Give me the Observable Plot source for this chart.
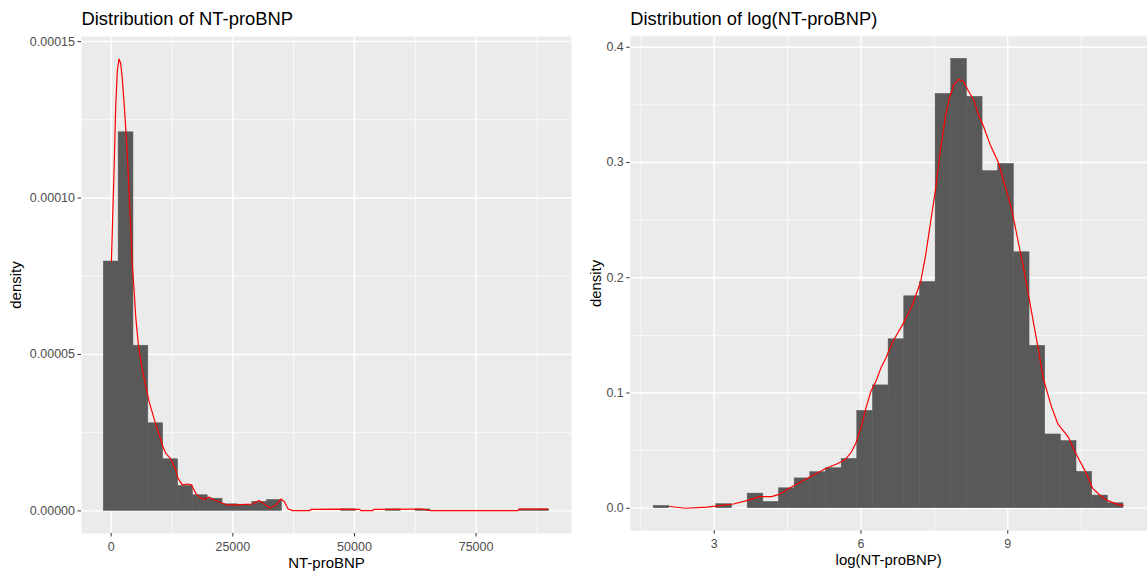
<!DOCTYPE html>
<html><head><meta charset="utf-8">
<script src="https://cdn.jsdelivr.net/npm/d3@7"></script>
<script src="https://cdn.jsdelivr.net/npm/@observablehq/plot@0.6"></script>
<style>
html,body{margin:0;padding:0;background:#fff;overflow:hidden;}
#wrap{position:relative;width:1147px;height:574px;overflow:hidden;font-family:"Liberation Sans",Arial,sans-serif;}
#left{position:absolute;left:0;top:0;}
#right{position:absolute;left:575px;top:0;}
</style></head>
<body><div id="wrap"><div id="left"></div><div id="right"></div></div>
<script>
// ---------- Left panel: NT-proBNP ----------
const ntTitle = "Distribution of NT-proBNP";
const ntXTitle = "NT-proBNP";
const ntBinStart = -1526;
const ntBinWidth = 3052;
const ntBarDensity = [7.97e-5, 1.21e-4, 5.28e-5, 2.80e-5, 1.65e-5, 8.0e-6, 5.0e-6, 3.9e-6, 2.1e-6, 2.0e-6,
  2.9e-6, 3.5e-6, 0, 0, 0, 0, 4.8e-7, 0, 0, 4.8e-7,
  0, 4.8e-7, 0, 0, 0, 0, 0, 0, 4.8e-7, 4.8e-7];
const ntCurveX = [41, 247, 576, 926, 1276, 1605, 1955, 2305, 2840, 3333, 3663, 4012, 4362, 4691, 5041, 5597, 6276, 7099, 7778, 8807,
  9835, 10535, 11214, 12243, 13272, 13745, 14650, 15679, 16502, 17387, 18416, 19095, 20123, 21152, 22531, 23909, 25967, 29053, 30412, 31440,
  32675, 33848, 34877, 35556, 36379, 37285, 40700, 41194, 46872, 50988, 51337, 53745, 54074, 63683, 65741, 83580, 83909, 89753];
const ntCurveY = [7.96e-5, 9.08e-5, 1.079e-4, 1.292e-4, 1.409e-4, 1.444e-4, 1.430e-4, 1.377e-4, 1.260e-4, 1.132e-4, 1.026e-4, 9.08e-5, 7.8e-5, 7.1e-5, 6.2e-5, 5.3e-5, 4.6e-5, 4.0e-5, 3.5e-5, 2.95e-5,
  2.45e-5, 2.1e-5, 1.84e-5, 1.66e-5, 1.31e-5, 1.04e-5, 8.3e-6, 8.6e-6, 8.3e-6, 5.6e-6, 4.1e-6, 3.7e-6, 4.4e-6, 3.5e-6, 2.7e-6, 1.9e-6, 1.9e-6, 2.2e-6, 3.3e-6, 2.2e-6,
  0.9e-6, 1.9e-6, 3.8e-6, 3.0e-6, 0.6e-6, 0.1e-6, 0.1e-6, 0.5e-6, 0.6e-6, 0.5e-6, 0.1e-6, 0.1e-6, 0.5e-6, 0.6e-6, 0.1e-6, 0.1e-6, 0.6e-6, 0.6e-6];
const ntXMajor = [0, 25000, 50000, 75000];
const ntXMinor = [12500, 37500, 62500, 87500];
const ntYMajor = [0, 0.00005, 0.0001, 0.00015];
const ntYMinor = [0.000025, 0.000075, 0.000125];

// ---------- Right panel: log(NT-proBNP) ----------
const logTitle = "Distribution of log(NT-proBNP)";
const logXTitle = "log(NT-proBNP)";
const logBinStart = 1.763;
const logBinWidth = 0.3201;
const logBarDensity = [0.002, 0, 0, 0, 0.0035, 0, 0.0127, 0.0055, 0.0173, 0.0259,
  0.0313, 0.0347, 0.0428, 0.0845, 0.1066, 0.1466, 0.1839, 0.1963, 0.3595, 0.390,
  0.357, 0.2925, 0.2988, 0.2221, 0.141, 0.064, 0.0583, 0.0316, 0.011, 0.0043];
const logCurveX = [2.092, 2.411, 2.852, 3.122, 3.392, 3.664, 3.934, 4.172, 4.341, 4.544, 4.814, 5.086, 5.289, 5.492, 5.661, 5.797, 5.899, 6.0, 6.102, 6.203,
  6.305, 6.406, 6.508, 6.642, 6.845, 7.048, 7.219, 7.32, 7.422, 7.524, 7.625, 7.727, 7.808, 7.895, 7.997, 8.098, 8.186, 8.302, 8.403, 8.505,
  8.641, 8.81, 8.946, 9.08, 9.216, 9.352, 9.486, 9.622, 9.724, 9.892, 10.028, 10.231, 10.40, 10.57, 10.74, 10.908, 11.045, 11.2, 11.36];
const logCurveY = [0.0015, 0.0, 0.0009, 0.0023, 0.0037, 0.0066, 0.0101, 0.0101, 0.0123, 0.0175, 0.0239, 0.0302, 0.0347, 0.0382, 0.0416, 0.0483, 0.0569, 0.0698, 0.0871, 0.1015,
  0.1101, 0.1216, 0.1302, 0.1440, 0.1589, 0.1761, 0.1963, 0.2192, 0.248, 0.2767, 0.3112, 0.340, 0.3558, 0.3672, 0.3722, 0.3701, 0.3629, 0.3543, 0.3414, 0.3313,
  0.3155, 0.2997, 0.2796, 0.2595, 0.2308, 0.202, 0.1704, 0.1388, 0.113, 0.0882, 0.0729, 0.0622, 0.0468, 0.0333, 0.0170, 0.0104, 0.0066, 0.0040, 0.0023];
const logXMajor = [3, 6, 9];
const logXMinor = [1.5, 4.5, 7.5, 10.5];
const logYMajor = [0, 0.1, 0.2, 0.3, 0.4];
const logYMinor = [0.05, 0.15, 0.25, 0.35];

const FONT = "'Liberation Sans', Arial, sans-serif";

function expand(lo, hi) { const d = (hi - lo) * 0.05; return [lo - d, hi + d]; }

function panel(o) {
  const bars = o.density.map((d, i) => ({x1: o.start + i * o.width, x2: o.start + (i + 1) * o.width, d})).filter(b => b.d > 0);
  const curve = o.cx.map((x, i) => ({x, y: o.cy[i]}));
  const xDom = expand(o.start, o.start + o.density.length * o.width);
  const yDom = expand(0, Math.max(d3.max(o.density), d3.max(o.cy)));
  return Plot.plot({
    width: o.W, height: 574,
    marginTop: 36, marginBottom: 41, marginLeft: o.ml, marginRight: o.mr,
    style: {fontFamily: FONT, background: "transparent", overflow: "visible"},
    x: {domain: xDom},
    y: {domain: yDom},
    marks: [
      Plot.frame({fill: "#EBEBEB", stroke: "none"}),
      Plot.ruleX(o.xMinor, {stroke: "white", strokeWidth: 0.7}),
      Plot.ruleY(o.yMinor, {stroke: "white", strokeWidth: 0.7}),
      Plot.ruleX(o.xMajor, {stroke: "white", strokeWidth: 1.4}),
      Plot.ruleY(o.yMajor, {stroke: "white", strokeWidth: 1.4}),
      Plot.rectY(bars, {x1: "x1", x2: "x2", y1: 0, y2: "d", fill: "#595959", stroke: "#595959", strokeWidth: 0.5}),
      Plot.line(curve, {x: "x", y: "y", stroke: "red", strokeWidth: 1.2}),
      Plot.axisX(o.xMajor, {tickSize: 3.5, tickPadding: 5, tickFormat: o.xFmt, fontSize: 12.5, fill: "#4D4D4D", stroke: "#333333", label: null}),
      Plot.axisY(o.yMajor, {tickSize: 3.5, tickPadding: 3, tickFormat: o.yFmt, fontSize: 12.5, fill: "#4D4D4D", stroke: "#333333", label: null}),
      Plot.text([o.title], {frameAnchor: "top-left", textAnchor: "start", lineAnchor: "middle", dy: -17, fontSize: 18.4, fill: "black"}),
      Plot.text([o.xTitle], {frameAnchor: "bottom", textAnchor: "middle", lineAnchor: "middle", dy: 30, fontSize: 15, fill: "black"}),
      Plot.text(["density"], {frameAnchor: "left", textAnchor: "middle", lineAnchor: "middle", dx: o.yTitleDx, rotate: -90, fontSize: 15, fill: "black"})
    ]
  });
}

document.getElementById("left").append(panel({
  W: 575, ml: 81, mr: 4,
  start: ntBinStart, width: ntBinWidth, density: ntBarDensity,
  cx: ntCurveX, cy: ntCurveY,
  xMajor: ntXMajor, xMinor: ntXMinor, yMajor: ntYMajor, yMinor: ntYMinor,
  xFmt: d3.format("d"), yFmt: d3.format(".5f"),
  title: ntTitle, xTitle: ntXTitle, yTitleDx: -65
}));

document.getElementById("right").append(panel({
  W: 575, ml: 55, mr: 0.5,
  start: logBinStart, width: logBinWidth, density: logBarDensity,
  cx: logCurveX, cy: logCurveY,
  xMajor: logXMajor, xMinor: logXMinor, yMajor: logYMajor, yMinor: logYMinor,
  xFmt: d3.format("d"), yFmt: d3.format(".1f"),
  title: logTitle, xTitle: logXTitle, yTitleDx: -34
}));
</script>
</body></html>
